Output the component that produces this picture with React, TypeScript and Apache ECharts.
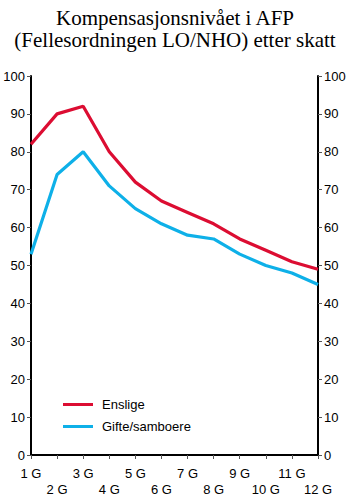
import React, { useEffect, useRef } from "react";
import * as echarts from "echarts";

const categories = ["1 G", "2 G", "3 G", "4 G", "5 G", "6 G", "7 G", "8 G", "9 G", "10 G", "11 G", "12 G"];
const enslige = [82, 90, 92, 80, 72, 67, 64, 61, 57, 54, 51, 49];
const gifte = [53, 74, 80, 71, 65, 61, 58, 57, 53, 50, 48, 45];
const titleLines = ["Kompensasjonsnivået i AFP", "(Fellesordningen LO/NHO) etter skatt"];

export default function App() {
  const ref = useRef<HTMLDivElement>(null);
  useEffect(() => {
    if (!ref.current) return;
    const chart = echarts.init(ref.current, undefined, { renderer: "svg" });
    const axisFont = { fontFamily: "Liberation Sans, Arial, sans-serif", fontSize: 13, color: "#000" };
    const yAxisBase = {
      type: "value",
      min: 0,
      max: 100,
      interval: 10,
      splitLine: { show: false },
      axisLine: { show: true, lineStyle: { color: "#000", width: 2 } },
      axisTick: { show: true, length: 4, lineStyle: { color: "#555", width: 1 } },
      axisLabel: { ...axisFont, margin: 6 },
    };
    chart.setOption({
      animation: false,
      backgroundColor: "#fff",
      title: {
        text: titleLines.join("\n"),
        left: "center",
        top: 2,
        textStyle: {
          fontFamily: "Liberation Serif, Times New Roman, serif",
          fontSize: 21,
          fontWeight: "normal",
          color: "#000",
          lineHeight: 22,
        },
      },
      grid: { left: 31, right: 32, top: 76, bottom: 39 },
      legend: {
        orient: "vertical",
        left: 58,
        top: 393,
        itemWidth: 30,
        itemHeight: 3,
        itemGap: 9,
        icon: "rect",
        textStyle: { ...axisFont, fontSize: 13, padding: [0, 0, 0, 4] },
        data: ["Enslige", "Gifte/samboere"],
      },
      xAxis: [
        {
          type: "category",
          data: categories,
          boundaryGap: false,
          axisLine: { show: true, lineStyle: { color: "#000", width: 2 } },
          axisTick: { show: true, length: 4, lineStyle: { color: "#555", width: 1 } },
          axisLabel: {
            ...axisFont,
            margin: 10,
            lineHeight: 16,
            interval: 0,
            formatter: (v: string, i: number) => (i % 2 === 1 ? "\n" + v : v),
          },
        },
        {
          type: "category",
          data: categories,
          position: "top",
          boundaryGap: false,
          axisLine: { show: true, lineStyle: { color: "#000", width: 1.5 } },
          axisTick: { show: false },
          axisLabel: { show: false },
        },
      ],
      yAxis: [
        { ...yAxisBase, position: "left" },
        { ...yAxisBase, position: "right" },
      ],
      series: [
        {
          name: "Enslige",
          type: "line",
          data: enslige,
          symbol: "none",
          lineStyle: { color: "#dc0d32", width: 3.2 },
          itemStyle: { color: "#dc0d32" },
        },
        {
          name: "Gifte/samboere",
          type: "line",
          data: gifte,
          symbol: "none",
          lineStyle: { color: "#0eb0e8", width: 3.2 },
          itemStyle: { color: "#0eb0e8" },
        },
      ],
    });
    return () => chart.dispose();
  }, []);
  return <div ref={ref} style={{ width: 350, height: 497, position: "absolute", left: 0, top: 0 }} />;
}
